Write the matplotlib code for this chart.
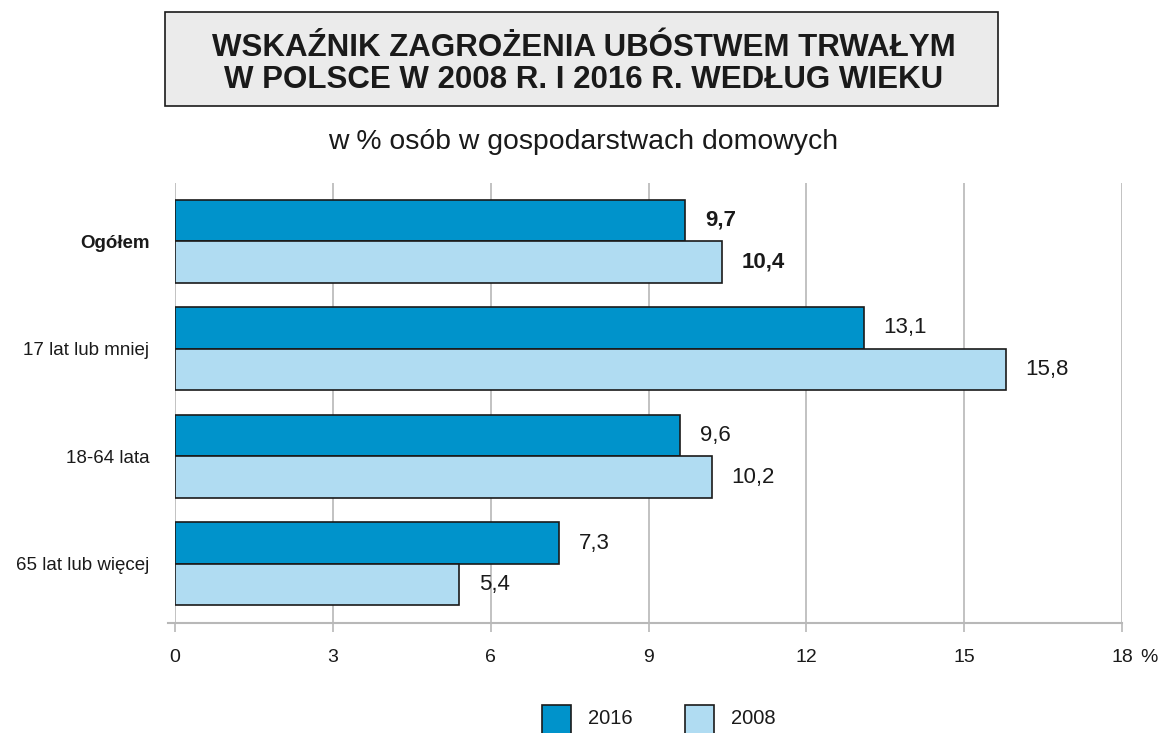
import matplotlib
matplotlib.use("Agg")
import matplotlib.pyplot as plt
from matplotlib.patches import Rectangle
import numpy as np

categories = ["Ogółem", "17 lat lub mniej", "18-64 lata", "65 lat lub więcej"]
values_2016 = [9.7, 13.1, 9.6, 7.3]
values_2008 = [10.4, 15.8, 10.2, 5.4]
labels_2016 = ["9,7", "13,1", "9,6", "7,3"]
labels_2008 = ["10,4", "15,8", "10,2", "5,4"]
series_names = ["2016", "2008"]
xticks = [0, 3, 6, 9, 12, 15, 18]
title = "WSKAŹNIK ZAGROŻENIA UBÓSTWEM TRWAŁYM\nW POLSCE W 2008 R. I 2016 R. WEDŁUG WIEKU"
subtitle = "w % osób w gospodarstwach domowych"

C2016 = "#0093cb"
C2008 = "#b0dcf2"
GRID = "#b8b8b8"
SANS = ["Liberation Sans", "DejaVu Sans"]

W, H = 1164, 733
fig = plt.figure(figsize=(W / 100, H / 100), dpi=100)

def fx(px):
    return px / W

def fy(py):
    return 1 - py / H

ax = fig.add_axes([fx(175), fy(623), fx(1122) - fx(175), fy(183) - fy(623)])

y = np.arange(len(categories))
bh = 0.386
ax.barh(y - bh / 2, values_2016, height=bh, color=C2016, edgecolor="#1a1a1a", linewidth=1.2, zorder=3)
ax.barh(y + bh / 2, values_2008, height=bh, color=C2008, edgecolor="#1a1a1a", linewidth=1.2, zorder=3)

ax.set_xlim(0, 18)
ax.set_ylim(3.55, -0.54)
for s in ax.spines.values():
    s.set_visible(False)

ax.set_xticks(xticks)
ax.set_xticklabels([str(t) for t in xticks], fontsize=14, family=SANS, color="#1a1a1a")
ax.tick_params(axis="x", direction="out", length=6.5, width=1.2, color=GRID, pad=12)
ax.grid(axis="x", color=GRID, linewidth=1.2, zorder=0)
ax.plot([-0.13, 18], [0, 0], transform=ax.get_xaxis_transform(), color=GRID, linewidth=1.5, clip_on=False, zorder=2)

ax.set_yticks(y)
ax.set_yticklabels(categories, fontsize=13.5, family=SANS, color="#1a1a1a")
ax.tick_params(axis="y", length=0, pad=18.5)
ax.get_yticklabels()[0].set_fontweight("bold")

# value labels
off = 0.37
for i in range(len(categories)):
    wgt = "bold" if i == 0 else "normal"
    ax.text(values_2016[i] + off, y[i] - bh / 2, labels_2016[i], ha="left", va="center",
            fontsize=16, fontweight=wgt, family=SANS, color="#1a1a1a")
    ax.text(values_2008[i] + off, y[i] + bh / 2, labels_2008[i], ha="left", va="center",
            fontsize=16, fontweight=wgt, family=SANS, color="#1a1a1a")

fig.text(fx(1140), fy(649), "%", ha="left", va="top", fontsize=14, family=SANS, color="#1a1a1a")

# title box
fig.patches.append(Rectangle((fx(165), fy(106)), fx(998) - fx(165), fy(12) - fy(106),
                             transform=fig.transFigure, facecolor="#ebebeb",
                             edgecolor="#1a1a1a", linewidth=1.2))
fig.text(fx(584), fy(64), title, ha="center", va="center", fontsize=22.5, fontweight="bold",
         family=SANS, color="#1a1a1a", linespacing=1.13)
fig.text(fx(583), fy(142), subtitle, ha="center", va="center", fontsize=20.4, family=SANS,
         color="#1a1a1a")

# legend
for (x0, name, col) in [(542, series_names[0], C2016), (685, series_names[1], C2008)]:
    fig.patches.append(Rectangle((fx(x0), fy(745)), fx(29), fy(705) - fy(745),
                                 transform=fig.transFigure, facecolor=col,
                                 edgecolor="#1a1a1a", linewidth=1.2))
    fig.text(fx(x0 + 46), fy(719), name, ha="left", va="center", fontsize=14.5, family=SANS,
             color="#1a1a1a")

fig.savefig("out.png", dpi=100)
